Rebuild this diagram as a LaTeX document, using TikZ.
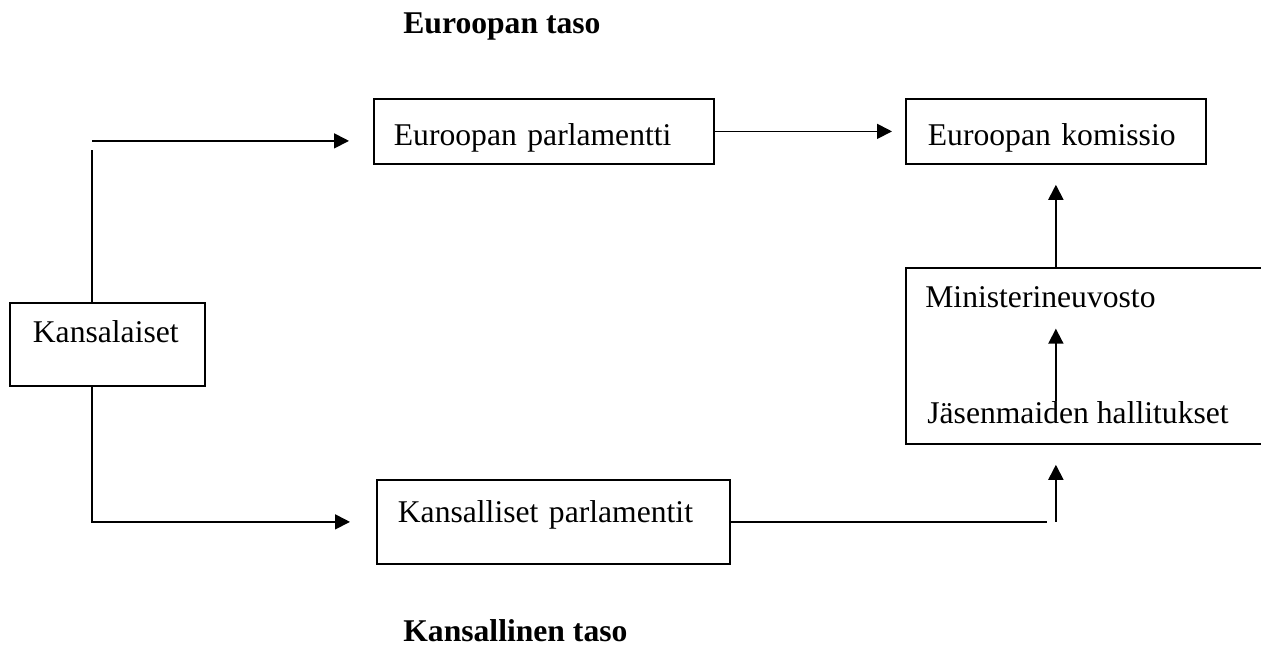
\documentclass[tikz,border=0pt]{standalone}
\usepackage{fontspec}
\setmainfont{Liberation Serif}
\usetikzlibrary{arrows.meta,calc}
\tikzset{
  laatikko/.style={draw, line width=1pt, inner ysep=0pt, align=left, anchor=north west},
  otsikko/.style={anchor=base west, inner sep=0pt, font=\fontsize{18}{22}\selectfont\bfseries},
  viiva/.style={line width=1pt},
  nuoli/.style={line width=1pt, -{Triangle[length=0.3cm,width=0.3cm]}}
}
\begin{document}
\begin{tikzpicture}[font=\fontsize{18}{22}\selectfont]
\path[use as bounding box] (0,0) rectangle (25.22,-12.92);
\clip (0,0) rectangle (25.22,-12.92);
% tasot
\node[otsikko] (eurtaso) at (8.06,-0.66) {Euroopan taso};
\node[otsikko] (kanstaso) at (8.06,-12.82) {Kansallinen taso};
% laatikot
\node[laatikko, inner xsep=0.4cm, text width=6.0cm, text height=0.94cm, text depth=0.36cm] (ep) at (7.46,-1.96) {Euroopan parlamentti};
\node[laatikko, inner xsep=0.44cm, text width=5.12cm, text height=0.94cm, text depth=0.36cm] (komissio) at (18.1,-1.96) {Euroopan komissio};
\node[laatikko, inner xsep=0.46cm, text width=2.98cm, text height=0.8cm, text depth=0.86cm] (kans) at (0.18,-6.04) {Kansalaiset};
\node[laatikko, inner xsep=0.42cm, text width=6.22cm, text height=0.86cm, text depth=0.82cm] (kp) at (7.52,-9.58) {Kansalliset parlamentit};
\node[laatikko, minimum width=8cm, minimum height=3.52cm] (ryhma) at (18.1,-5.34) {}; % jatkuu reunan yli
\node[anchor=base west, inner sep=0pt] (neuvosto) at (18.5,-6.14) {Ministerineuvosto};
\node[anchor=base west, inner sep=0pt] (hallitukset) at (18.54,-8.46) {Jäsenmaiden hallitukset};
% kansalaiset -> parlamentit
\coordinate (k1) at ($(kans.north west)+(1.66,0)$);
\coordinate (k2) at ($(ep.west)+(0,-0.19)$);
\draw[viiva] (k1) -- ++(0,3.04);
\draw[nuoli, shorten >=0.48cm] (k2 -| k1) -- (k2);
\draw[nuoli, shorten >=0.52cm] (kans.south -| k1) |- (kp.west);
% parlamentti -> komissio
\draw[nuoli, shorten >=0.26cm] (ep.east) -- (komissio.west);
% kansalliset parlamentit -> hallitukset
\coordinate (k3) at (kp.east -| komissio.south);
\draw[viiva] (kp.east) -- ($(k3)+(-0.18,0)$);
\draw[nuoli, shorten >=0.4cm] (k3) -- (k3 |- ryhma.south);
% hallitukset -> neuvosto -> komissio
\draw[nuoli, shorten >=0.42cm] (komissio.south |- hallitukset.north) -- (komissio.south |- neuvosto.south);
\draw[nuoli, shorten >=0.4cm] (ryhma.north -| komissio.south) -- (komissio.south);
\end{tikzpicture}
\end{document}
